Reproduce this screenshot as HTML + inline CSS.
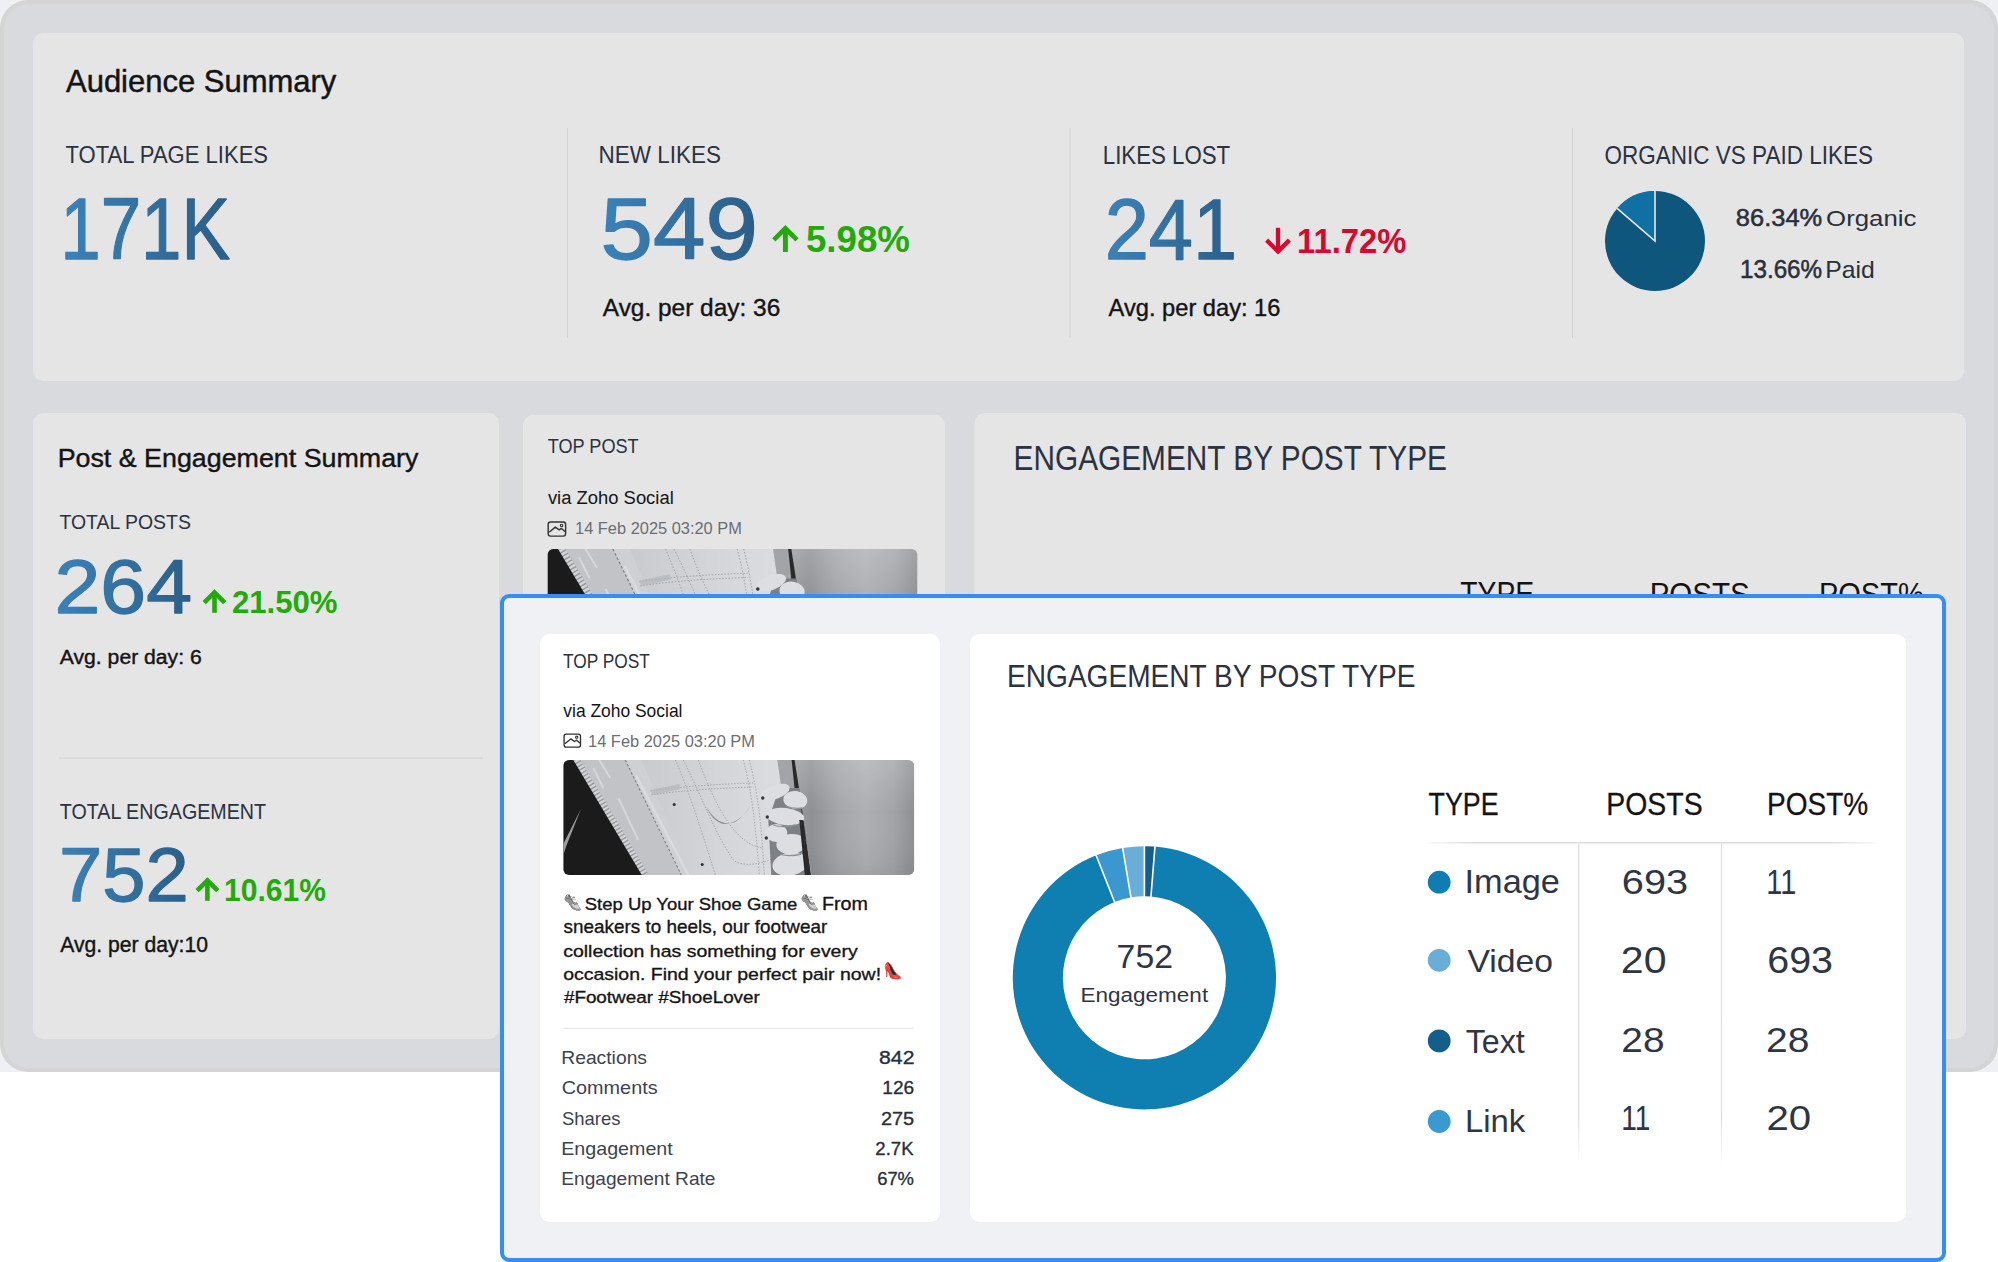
<!DOCTYPE html>
<html lang="en"><head><meta charset="utf-8"><title>Audience Summary</title>
<style>html,body{margin:0;padding:0;background:#ffffff;}body{width:1998px;height:1262px;position:relative;overflow:hidden;font-family:"Liberation Sans",Arial,sans-serif;}</style>
</head><body>
<svg width="1998" height="1262" viewBox="0 0 1998 1262" style="position:absolute;left:0;top:0" font-family="Liberation Sans, Arial, sans-serif">
<defs>
<linearGradient id="num" x1="0" y1="0" x2="1" y2="0"><stop offset="0" stop-color="#3b82b9"/><stop offset="1" stop-color="#2b5e87"/></linearGradient>
<linearGradient id="fabric" gradientUnits="userSpaceOnUse" x1="230" y1="0" x2="351" y2="0">
<stop offset="0" stop-color="#9c9da0"/><stop offset="0.15" stop-color="#8f9093"/><stop offset="0.38" stop-color="#a5a6a9"/><stop offset="0.6" stop-color="#aeafb2"/><stop offset="0.82" stop-color="#a3a4a7"/><stop offset="1" stop-color="#8e8f92"/></linearGradient>
<linearGradient id="fabricv" x1="0" y1="0" x2="0" y2="1"><stop offset="0" stop-color="#ffffff" stop-opacity="0.18"/><stop offset="0.45" stop-color="#ffffff" stop-opacity="0"/><stop offset="1" stop-color="#000000" stop-opacity="0.06"/></linearGradient>
<linearGradient id="upper" gradientUnits="userSpaceOnUse" x1="60" y1="0" x2="240" y2="0"><stop offset="0" stop-color="#c6c8cb"/><stop offset="0.35" stop-color="#cfd1d4"/><stop offset="0.7" stop-color="#d7d9dd"/><stop offset="1" stop-color="#dcdee2"/></linearGradient>
<linearGradient id="hline" x1="0" y1="0" x2="1" y2="0"><stop offset="0" stop-color="#dfe0e3" stop-opacity="0.2"/><stop offset="0.1" stop-color="#dcdde0"/><stop offset="0.9" stop-color="#dcdde0"/><stop offset="1" stop-color="#dfe0e3" stop-opacity="0.2"/></linearGradient>
<linearGradient id="vline" x1="0" y1="0" x2="0" y2="1"><stop offset="0" stop-color="#dcdde0"/><stop offset="0.85" stop-color="#dcdde0"/><stop offset="1" stop-color="#dcdde0" stop-opacity="0"/></linearGradient>
</defs>
<rect x="0" y="0" width="1998" height="1072" rx="0" fill="#eef0f4" />
<rect x="0" y="0" width="1998" height="1072" rx="28" fill="#d5d5d6" />
<rect x="4" y="4" width="1990" height="1064" rx="25" fill="#d9dadd" />
<rect x="33" y="33" width="1931" height="348" rx="10" fill="#e5e5e5" />
<rect x="567.0" y="128" width="1.0" height="210" rx="0" fill="#d3d3d5" />
<rect x="1069.5" y="128" width="1.0" height="210" rx="0" fill="#d3d3d5" />
<rect x="1572.0" y="128" width="1.0" height="210" rx="0" fill="#d3d3d5" />
<text x="66.00" y="91.50" font-size="30.76" font-weight="400" fill="#141414" textLength="270.34" lengthAdjust="spacingAndGlyphs" stroke="#141414" stroke-width="0.45" stroke-linejoin="round" >Audience Summary</text>
<text x="65.56" y="163.30" font-size="24.29" font-weight="400" fill="#2b3240" textLength="202.52" lengthAdjust="spacingAndGlyphs" >TOTAL PAGE LIKES</text>
<text x="60.19" y="258.65" font-size="86.52" font-weight="400" fill="url(#num)" textLength="169.92" lengthAdjust="spacingAndGlyphs" stroke="url(#num)" stroke-width="1.3" stroke-linejoin="round" >171K</text>
<text x="598.60" y="163.30" font-size="24.43" font-weight="400" fill="#2b3240" textLength="122.43" lengthAdjust="spacingAndGlyphs" >NEW LIKES</text>
<text x="600.58" y="258.85" font-size="86.43" font-weight="400" fill="url(#num)" textLength="157.35" lengthAdjust="spacingAndGlyphs" stroke="url(#num)" stroke-width="1.3" stroke-linejoin="round" >549</text>
<path d="M773.80 239.95 L785.40 228.35 L797.00 239.95" fill="none" stroke="#21aa0a" stroke-width="4.6" stroke-linejoin="miter" stroke-miterlimit="10"/>
<rect x="782.95" y="229.35" width="4.9" height="22.65" fill="#21aa0a"/>
<text x="805.90" y="252.30" font-size="36.14" font-weight="700" fill="#21aa0a" textLength="104.04" lengthAdjust="spacingAndGlyphs" >5.98%</text>
<text x="602.80" y="316.00" font-size="24.83" font-weight="400" fill="#141414" textLength="177.46" lengthAdjust="spacingAndGlyphs" stroke="#141414" stroke-width="0.4" stroke-linejoin="round" >Avg. per day: 36</text>
<text x="1102.82" y="163.50" font-size="25.00" font-weight="400" fill="#2b3240" textLength="127.32" lengthAdjust="spacingAndGlyphs" >LIKES LOST</text>
<text x="1104.68" y="259.35" font-size="85.86" font-weight="400" fill="url(#num)" textLength="132.52" lengthAdjust="spacingAndGlyphs" stroke="url(#num)" stroke-width="1.3" stroke-linejoin="round" >241</text>
<path d="M1266.60 240.09 L1278.00 251.49 L1289.40 240.09" fill="none" stroke="#d6082f" stroke-width="4.4" stroke-linejoin="miter" stroke-miterlimit="10"/>
<rect x="1275.85" y="227.80" width="4.3" height="22.69" fill="#d6082f"/>
<text x="1297.04" y="252.50" font-size="35.57" font-weight="700" fill="#d6082f" textLength="109.23" lengthAdjust="spacingAndGlyphs" >11.72%</text>
<text x="1108.60" y="316.00" font-size="24.00" font-weight="400" fill="#141414" textLength="171.83" lengthAdjust="spacingAndGlyphs" stroke="#141414" stroke-width="0.4" stroke-linejoin="round" >Avg. per day: 16</text>
<text x="1604.59" y="163.70" font-size="24.86" font-weight="400" fill="#2b3240" textLength="268.32" lengthAdjust="spacingAndGlyphs" >ORGANIC VS PAID LIKES</text>
<circle cx="1655" cy="241" r="50" fill="#0f567d"/>
<path d="M1655 241 L1655 191 A50 50 0 0 0 1617.15 208.33 Z" fill="#1170a3"/>
<path d="M1617.15 208.33 L1655 241 L1655 191" fill="none" stroke="#e8e8e8" stroke-width="1.6"/>
<text x="1735.85" y="226.40" font-size="23.71" font-weight="400" fill="#2a2f3a" textLength="86.35" lengthAdjust="spacingAndGlyphs" stroke="#2a2f3a" stroke-width="0.5" stroke-linejoin="round" >86.34%</text>
<text x="1826.14" y="226.40" font-size="22.90" font-weight="400" fill="#2a2f3a" textLength="90.24" lengthAdjust="spacingAndGlyphs" >Organic</text>
<text x="1739.98" y="277.80" font-size="24.86" font-weight="400" fill="#2a2f3a" textLength="82.18" lengthAdjust="spacingAndGlyphs" stroke="#2a2f3a" stroke-width="0.5" stroke-linejoin="round" >13.66%</text>
<text x="1825.32" y="277.80" font-size="24.00" font-weight="400" fill="#2a2f3a" textLength="49.53" lengthAdjust="spacingAndGlyphs" >Paid</text>
<rect x="33" y="413" width="466" height="626" rx="10" fill="#e5e5e5" />
<text x="57.65" y="466.80" font-size="26.57" font-weight="400" fill="#141414" textLength="360.78" lengthAdjust="spacingAndGlyphs" stroke="#141414" stroke-width="0.4" stroke-linejoin="round" >Post &amp; Engagement Summary</text>
<text x="59.41" y="529.00" font-size="21.14" font-weight="400" fill="#2b3240" textLength="131.48" lengthAdjust="spacingAndGlyphs" >TOTAL POSTS</text>
<text x="54.53" y="613.35" font-size="76.43" font-weight="400" fill="url(#num)" textLength="137.59" lengthAdjust="spacingAndGlyphs" stroke="url(#num)" stroke-width="1.3" stroke-linejoin="round" >264</text>
<path d="M204.20 602.68 L214.50 592.38 L224.80 602.68" fill="none" stroke="#21aa0a" stroke-width="4.5" stroke-linejoin="miter" stroke-miterlimit="10"/>
<rect x="212.20" y="593.38" width="4.6" height="19.42" fill="#21aa0a"/>
<text x="231.91" y="613.00" font-size="30.71" font-weight="700" fill="#21aa0a" textLength="105.66" lengthAdjust="spacingAndGlyphs" >21.50%</text>
<text x="59.80" y="664.30" font-size="20.41" font-weight="400" fill="#141414" textLength="141.91" lengthAdjust="spacingAndGlyphs" stroke="#141414" stroke-width="0.4" stroke-linejoin="round" >Avg. per day: 6</text>
<rect x="59" y="757.5" width="424" height="1.0" rx="0" fill="#d3d3d5" />
<text x="59.81" y="818.50" font-size="21.57" font-weight="400" fill="#2b3240" textLength="206.25" lengthAdjust="spacingAndGlyphs" >TOTAL ENGAGEMENT</text>
<text x="59.07" y="900.65" font-size="75.71" font-weight="400" fill="url(#num)" textLength="129.64" lengthAdjust="spacingAndGlyphs" stroke="url(#num)" stroke-width="1.3" stroke-linejoin="round" >752</text>
<path d="M197.10 890.68 L207.40 880.38 L217.70 890.68" fill="none" stroke="#21aa0a" stroke-width="4.5" stroke-linejoin="miter" stroke-miterlimit="10"/>
<rect x="205.10" y="881.38" width="4.6" height="19.42" fill="#21aa0a"/>
<text x="224.00" y="901.00" font-size="31.43" font-weight="700" fill="#21aa0a" textLength="101.85" lengthAdjust="spacingAndGlyphs" >10.61%</text>
<text x="60.20" y="951.90" font-size="21.66" font-weight="400" fill="#141414" textLength="147.77" lengthAdjust="spacingAndGlyphs" stroke="#141414" stroke-width="0.4" stroke-linejoin="round" >Avg. per day:10</text>
<rect x="523" y="415" width="422" height="624" rx="10" fill="#e5e5e5" />
<text x="547.64" y="453.00" font-size="21.00" font-weight="400" fill="#2b3240" textLength="91.03" lengthAdjust="spacingAndGlyphs" >TOP POST</text>
<text x="547.91" y="503.80" font-size="19.03" font-weight="400" fill="#141414" textLength="125.83" lengthAdjust="spacingAndGlyphs" >via Zoho Social</text>
<g fill="none" stroke="#333" stroke-width="1.43" stroke-linejoin="round" stroke-linecap="round"><rect x="548.20" y="522.00" width="17.40" height="14.10" rx="2.32"/><polyline points="549.72,531.76 555.32,527.11 559.22,529.86 561.44,528.48 564.61,531.23"/><circle cx="561.55" cy="525.42" r="1.21" stroke-width="1.16"/></g>
<text x="575.07" y="534.30" font-size="17.24" font-weight="400" fill="#6b6e74" textLength="166.81" lengthAdjust="spacingAndGlyphs" >14 Feb 2025 03:20 PM</text>
<g transform="translate(547.5 549) scale(1.0541310541310542)">
<clipPath id="c1"><rect x="0" y="0" width="351" height="115" rx="5.69"/></clipPath>
<g clip-path="url(#c1)">
<rect x="0" y="0" width="351" height="115" fill="url(#fabric)"/>
<rect x="0" y="0" width="351" height="115" fill="url(#fabricv)"/>
<polygon points="8,0 230,0 248,115 76,115" fill="url(#upper)"/>
<polygon points="214,0 230,0 236,30 218,28" fill="#a2a4a8"/>
<polygon points="9,0 62,0 118,115 77,115" fill="#c2c3c6"/>
<polygon points="62,0 78,0 128,115 118,115" fill="#cfd0d3"/>
<path d="M30 8 L40 28 M36 0 L47 18 M55 38 L75 80" stroke="#d6d7da" stroke-width="2" fill="none"/>
<path d="M13 0 L81.5 115" stroke="#9a9b9e" stroke-width="7" fill="none"/>
<path d="M13 0 L81.5 115" stroke="#d4d5d8" stroke-width="7" stroke-dasharray="2.2 1.5" fill="none"/>
<path d="M73 16 L125 115" stroke="#dadbde" stroke-width="2.5" fill="none"/>
<polygon points="0,0 10,0 78.5,115 0,115" fill="#1b1b1c"/>
<path d="M17.6 49 L0 84 L0 95 L3 86 Z" fill="#9c9d9f"/>
<path d="M62 0 L118 115" stroke="#7d7f83" stroke-width="1.1" stroke-dasharray="2.5 2" fill="none"/>
<g fill="none" stroke="#9a9ca1" stroke-width="0.8" stroke-dasharray="1.5 1.5"><path d="M87 31 C120 26 160 24 190 23"/><path d="M88 35 C120 30 160 28 190 27"/><path d="M112 0 C125 30 135 60 152 115"/><path d="M120 0 C140 40 150 70 170 100 C180 108 200 104 215 96"/><path d="M135 0 C150 40 170 85 200 88"/><path d="M180 0 C188 30 192 60 196 115"/><path d="M186 0 C194 30 198 60 201 115"/></g>
<path d="M87 30 L116 24 L117 29 L89 35 Z" fill="#b4b6ba" opacity="0.7"/>
<path d="M143 46 C150 60 160 66 172 62 C178 58 183 52 187 46 C181 56 172 64 160 64 C152 62 146 55 143 46 Z" fill="#8e9094"/>
<circle cx="110.9" cy="44.6" r="1.5" fill="#2b2d33"/><circle cx="138.9" cy="104.5" r="1.5" fill="#2b2d33"/>
<path d="M228.3 0 L231.3 0 L237.5 40 L247.5 115 L240.5 115 L233 45 Z" fill="#2a2a2c"/>
<path d="M216 28 L236 28 L244 115 L208 115 L205 60 Z" fill="#7d8085"/>
<g fill="#dcdee2"><ellipse cx="212" cy="32" rx="15" ry="7" transform="rotate(-20 212 32)"/><ellipse cx="232" cy="40" rx="12" ry="9" transform="rotate(8 232 40)"/><ellipse cx="222" cy="56.5" rx="19" ry="8.5" transform="rotate(6 222 56.5)"/><ellipse cx="213" cy="73" rx="11" ry="9"/><ellipse cx="228" cy="84" rx="15" ry="10" transform="rotate(-6 228 84)"/><ellipse cx="227" cy="104" rx="18" ry="11.5" transform="rotate(-10 227 104)"/></g>
<path d="M222 46 C227 48 233 49 239 48 M210 65 C216 67 224 67 232 65 M216 94 C222 96 230 96 238 94" stroke="#8d9095" stroke-width="1.3" fill="none"/>
<circle cx="199.5" cy="38" r="1.7" fill="#33363c"/><circle cx="204" cy="57" r="1.7" fill="#33363c"/><circle cx="203" cy="78" r="1.7" fill="#33363c"/>
<path d="M236 60 L239.5 60 L247.5 115 L241.5 115 Z" fill="#2a2a2c"/>
</g></g>
<rect x="974.5" y="413" width="991.5" height="626" rx="10" fill="#e5e5e5" />
<text x="1013.62" y="470.00" font-size="34.71" font-weight="400" fill="#2b3240" textLength="433.34" lengthAdjust="spacingAndGlyphs" >ENGAGEMENT BY POST TYPE</text>
<text x="1460.23" y="605.40" font-size="32.61" font-weight="400" fill="#141414" textLength="73.95" lengthAdjust="spacingAndGlyphs" >TYPE</text>
<text x="1649.64" y="605.40" font-size="32.14" font-weight="400" fill="#141414" textLength="100.08" lengthAdjust="spacingAndGlyphs" >POSTS</text>
<text x="1818.98" y="605.40" font-size="32.14" font-weight="400" fill="#141414" textLength="104.74" lengthAdjust="spacingAndGlyphs" >POST%</text>
<rect x="502" y="596" width="1442" height="664" rx="7" fill="#f0f1f5" stroke="#348ef5" stroke-width="4"/>
<rect x="540" y="634" width="400" height="588" rx="10" fill="#ffffff" />
<rect x="970" y="634" width="936" height="588" rx="10" fill="#ffffff" />
<text x="563.05" y="668.30" font-size="19.29" font-weight="400" fill="#2b3240" textLength="86.90" lengthAdjust="spacingAndGlyphs" >TOP POST</text>
<text x="563.31" y="717.00" font-size="17.52" font-weight="400" fill="#141414" textLength="119.16" lengthAdjust="spacingAndGlyphs" >via Zoho Social</text>
<g fill="none" stroke="#333" stroke-width="1.35" stroke-linejoin="round" stroke-linecap="round"><rect x="564.10" y="734.10" width="16.40" height="13.10" rx="2.20"/><polyline points="565.50,743.30 570.80,738.90 574.50,741.50 576.60,740.20 579.60,742.80"/><circle cx="576.70" cy="737.30" r="1.15" stroke-width="1.10"/></g>
<text x="588.07" y="746.60" font-size="16.41" font-weight="400" fill="#6b6e74" textLength="166.91" lengthAdjust="spacingAndGlyphs" >14 Feb 2025 03:20 PM</text>
<g transform="translate(563.3 760) scale(1.0)">
<clipPath id="c2"><rect x="0" y="0" width="351" height="115" rx="6.00"/></clipPath>
<g clip-path="url(#c2)">
<rect x="0" y="0" width="351" height="115" fill="url(#fabric)"/>
<rect x="0" y="0" width="351" height="115" fill="url(#fabricv)"/>
<polygon points="8,0 230,0 248,115 76,115" fill="url(#upper)"/>
<polygon points="214,0 230,0 236,30 218,28" fill="#a2a4a8"/>
<polygon points="9,0 62,0 118,115 77,115" fill="#c2c3c6"/>
<polygon points="62,0 78,0 128,115 118,115" fill="#cfd0d3"/>
<path d="M30 8 L40 28 M36 0 L47 18 M55 38 L75 80" stroke="#d6d7da" stroke-width="2" fill="none"/>
<path d="M13 0 L81.5 115" stroke="#9a9b9e" stroke-width="7" fill="none"/>
<path d="M13 0 L81.5 115" stroke="#d4d5d8" stroke-width="7" stroke-dasharray="2.2 1.5" fill="none"/>
<path d="M73 16 L125 115" stroke="#dadbde" stroke-width="2.5" fill="none"/>
<polygon points="0,0 10,0 78.5,115 0,115" fill="#1b1b1c"/>
<path d="M17.6 49 L0 84 L0 95 L3 86 Z" fill="#9c9d9f"/>
<path d="M62 0 L118 115" stroke="#7d7f83" stroke-width="1.1" stroke-dasharray="2.5 2" fill="none"/>
<g fill="none" stroke="#9a9ca1" stroke-width="0.8" stroke-dasharray="1.5 1.5"><path d="M87 31 C120 26 160 24 190 23"/><path d="M88 35 C120 30 160 28 190 27"/><path d="M112 0 C125 30 135 60 152 115"/><path d="M120 0 C140 40 150 70 170 100 C180 108 200 104 215 96"/><path d="M135 0 C150 40 170 85 200 88"/><path d="M180 0 C188 30 192 60 196 115"/><path d="M186 0 C194 30 198 60 201 115"/></g>
<path d="M87 30 L116 24 L117 29 L89 35 Z" fill="#b4b6ba" opacity="0.7"/>
<path d="M143 46 C150 60 160 66 172 62 C178 58 183 52 187 46 C181 56 172 64 160 64 C152 62 146 55 143 46 Z" fill="#8e9094"/>
<circle cx="110.9" cy="44.6" r="1.5" fill="#2b2d33"/><circle cx="138.9" cy="104.5" r="1.5" fill="#2b2d33"/>
<path d="M228.3 0 L231.3 0 L237.5 40 L247.5 115 L240.5 115 L233 45 Z" fill="#2a2a2c"/>
<path d="M216 28 L236 28 L244 115 L208 115 L205 60 Z" fill="#7d8085"/>
<g fill="#dcdee2"><ellipse cx="212" cy="32" rx="15" ry="7" transform="rotate(-20 212 32)"/><ellipse cx="232" cy="40" rx="12" ry="9" transform="rotate(8 232 40)"/><ellipse cx="222" cy="56.5" rx="19" ry="8.5" transform="rotate(6 222 56.5)"/><ellipse cx="213" cy="73" rx="11" ry="9"/><ellipse cx="228" cy="84" rx="15" ry="10" transform="rotate(-6 228 84)"/><ellipse cx="227" cy="104" rx="18" ry="11.5" transform="rotate(-10 227 104)"/></g>
<path d="M222 46 C227 48 233 49 239 48 M210 65 C216 67 224 67 232 65 M216 94 C222 96 230 96 238 94" stroke="#8d9095" stroke-width="1.3" fill="none"/>
<circle cx="199.5" cy="38" r="1.7" fill="#33363c"/><circle cx="204" cy="57" r="1.7" fill="#33363c"/><circle cx="203" cy="78" r="1.7" fill="#33363c"/>
<path d="M236 60 L239.5 60 L247.5 115 L241.5 115 Z" fill="#2a2a2c"/>
</g></g>
<text x="564.12" y="906.39" font-size="18.14" font-family="Noto Color Emoji, sans-serif" style="filter:grayscale(1) brightness(1.5)" transform="rotate(30 574.1 899.5)">👟</text>
<text x="584.77" y="909.90" font-size="16.97" font-weight="400" fill="#161616" textLength="212.52" lengthAdjust="spacingAndGlyphs" stroke="#161616" stroke-width="0.35" stroke-linejoin="round" >Step Up Your Shoe Game</text>
<text x="801.92" y="906.39" font-size="18.14" font-family="Noto Color Emoji, sans-serif" style="filter:grayscale(1) brightness(1.5)" transform="rotate(30 811.9 899.5)">👟</text>
<text x="821.92" y="909.90" font-size="17.83" font-weight="400" fill="#161616" textLength="46.02" lengthAdjust="spacingAndGlyphs" stroke="#161616" stroke-width="0.35" stroke-linejoin="round" >From</text>
<text x="563.43" y="933.30" font-size="18.21" font-weight="400" fill="#161616" textLength="263.90" lengthAdjust="spacingAndGlyphs" stroke="#161616" stroke-width="0.35" stroke-linejoin="round" >sneakers to heels, our footwear</text>
<text x="563.22" y="956.70" font-size="16.83" font-weight="400" fill="#161616" textLength="294.46" lengthAdjust="spacingAndGlyphs" stroke="#161616" stroke-width="0.35" stroke-linejoin="round" >collection has something for every</text>
<text x="563.22" y="979.60" font-size="17.38" font-weight="400" fill="#161616" textLength="317.86" lengthAdjust="spacingAndGlyphs" stroke="#161616" stroke-width="0.35" stroke-linejoin="round" >occasion. Find your perfect pair now!</text>
<text x="883.20" y="976.41" font-size="15.73" font-family="Noto Color Emoji, sans-serif">👠</text>
<text x="563.91" y="1003.00" font-size="17.38" font-weight="400" fill="#161616" textLength="195.89" lengthAdjust="spacingAndGlyphs" stroke="#161616" stroke-width="0.35" stroke-linejoin="round" >#Footwear #ShoeLover</text>
<rect x="563.6" y="1027.8" width="350.1" height="1.0" rx="0" fill="#e4e5e8" />
<text x="561.26" y="1063.50" font-size="17.66" font-weight="400" fill="#3d4350" textLength="85.75" lengthAdjust="spacingAndGlyphs" >Reactions</text>
<text x="879.05" y="1063.50" font-size="18.29" font-weight="400" fill="#2a2f3a" textLength="35.39" lengthAdjust="spacingAndGlyphs" stroke="#2a2f3a" stroke-width="0.35" stroke-linejoin="round" >842</text>
<text x="561.81" y="1094.10" font-size="18.57" font-weight="400" fill="#3d4350" textLength="95.78" lengthAdjust="spacingAndGlyphs" >Comments</text>
<text x="882.27" y="1094.10" font-size="18.57" font-weight="400" fill="#2a2f3a" textLength="31.86" lengthAdjust="spacingAndGlyphs" stroke="#2a2f3a" stroke-width="0.35" stroke-linejoin="round" >126</text>
<text x="561.97" y="1124.60" font-size="18.34" font-weight="400" fill="#3d4350" textLength="58.45" lengthAdjust="spacingAndGlyphs" >Shares</text>
<text x="880.90" y="1124.60" font-size="19.00" font-weight="400" fill="#2a2f3a" textLength="33.26" lengthAdjust="spacingAndGlyphs" stroke="#2a2f3a" stroke-width="0.35" stroke-linejoin="round" >275</text>
<text x="561.23" y="1154.80" font-size="17.97" font-weight="400" fill="#3d4350" textLength="111.49" lengthAdjust="spacingAndGlyphs" >Engagement</text>
<text x="875.37" y="1154.80" font-size="17.71" font-weight="400" fill="#2a2f3a" textLength="38.15" lengthAdjust="spacingAndGlyphs" stroke="#2a2f3a" stroke-width="0.35" stroke-linejoin="round" >2.7K</text>
<text x="561.27" y="1185.00" font-size="18.26" font-weight="400" fill="#3d4350" textLength="154.22" lengthAdjust="spacingAndGlyphs" >Engagement Rate</text>
<text x="877.18" y="1185.00" font-size="18.00" font-weight="400" fill="#2a2f3a" textLength="36.79" lengthAdjust="spacingAndGlyphs" stroke="#2a2f3a" stroke-width="0.35" stroke-linejoin="round" >67%</text>
<text x="1007.05" y="687.10" font-size="31.86" font-weight="400" fill="#2b3240" textLength="408.33" lengthAdjust="spacingAndGlyphs" >ENGAGEMENT BY POST TYPE</text>
<path d="M1154.95 846.62 A131.6 131.6 0 1 1 1096.17 855.36 L1114.53 901.97 A81.5 81.5 0 1 0 1150.94 896.56 Z" fill="#0f7fb2"/>
<path d="M1096.17 855.36 A131.6 131.6 0 0 1 1122.68 848.00 L1130.95 897.42 A81.5 81.5 0 0 0 1114.53 901.97 Z" fill="#3a97cf"/>
<path d="M1122.68 848.00 A131.6 131.6 0 0 1 1144.40 846.20 L1144.40 896.30 A81.5 81.5 0 0 0 1130.95 897.42 Z" fill="#6aaed8"/>
<path d="M1144.40 846.20 A131.6 131.6 0 0 1 1154.95 846.62 L1150.94 896.56 A81.5 81.5 0 0 0 1144.40 896.30 Z" fill="#135f8a"/>
<line x1="1114.90" y1="902.90" x2="1095.80" y2="854.43" stroke="#ffffff" stroke-width="1.6"/>
<line x1="1131.11" y1="898.40" x2="1122.51" y2="847.02" stroke="#ffffff" stroke-width="1.6"/>
<line x1="1144.40" y1="897.30" x2="1144.40" y2="845.20" stroke="#ffffff" stroke-width="1.6"/>
<line x1="1150.86" y1="897.56" x2="1155.03" y2="845.63" stroke="#ffffff" stroke-width="1.6"/>
<text x="1116.61" y="967.60" font-size="32.43" font-weight="400" fill="#2f3542" textLength="56.40" lengthAdjust="spacingAndGlyphs" >752</text>
<text x="1080.50" y="1001.90" font-size="20.00" font-weight="400" fill="#2f3542" textLength="127.64" lengthAdjust="spacingAndGlyphs" >Engagement</text>
<text x="1428.56" y="814.60" font-size="30.87" font-weight="400" fill="#141414" textLength="70.06" lengthAdjust="spacingAndGlyphs" stroke="#141414" stroke-width="0.3" stroke-linejoin="round" >TYPE</text>
<text x="1606.33" y="814.60" font-size="30.43" font-weight="400" fill="#141414" textLength="96.24" lengthAdjust="spacingAndGlyphs" stroke="#141414" stroke-width="0.3" stroke-linejoin="round" >POSTS</text>
<text x="1766.96" y="814.60" font-size="30.43" font-weight="400" fill="#141414" textLength="101.24" lengthAdjust="spacingAndGlyphs" stroke="#141414" stroke-width="0.3" stroke-linejoin="round" >POST%</text>
<rect x="1428" y="842" width="448" height="1.6" fill="url(#hline)"/>
<rect x="1578.2" y="844" width="1.2" height="321" fill="url(#vline)"/>
<rect x="1720.9" y="844" width="1.2" height="321" fill="url(#vline)"/>
<circle cx="1439.2" cy="882.2" r="11.4" fill="#0f7db2"/>
<circle cx="1439.2" cy="960.3" r="11.4" fill="#6aaed8"/>
<circle cx="1439.2" cy="1040.9" r="11.4" fill="#135f8a"/>
<circle cx="1439.2" cy="1121.5" r="11.4" fill="#3a99d0"/>
<text x="1464.51" y="892.60" font-size="32.75" font-weight="400" fill="#2f3643" textLength="95.41" lengthAdjust="spacingAndGlyphs" >Image</text>
<text x="1621.81" y="893.80" font-size="35.00" font-weight="400" fill="#2f3643" textLength="66.32" lengthAdjust="spacingAndGlyphs" >693</text>
<text x="1766.33" y="893.80" font-size="35.51" font-weight="400" fill="#2f3643" textLength="30.07" lengthAdjust="spacingAndGlyphs" >11</text>
<text x="1467.43" y="971.60" font-size="31.17" font-weight="400" fill="#2f3643" textLength="85.61" lengthAdjust="spacingAndGlyphs" >Video</text>
<text x="1620.85" y="973.00" font-size="36.00" font-weight="400" fill="#2f3643" textLength="45.69" lengthAdjust="spacingAndGlyphs" >20</text>
<text x="1767.23" y="973.00" font-size="36.00" font-weight="400" fill="#2f3643" textLength="65.79" lengthAdjust="spacingAndGlyphs" >693</text>
<text x="1465.76" y="1053.00" font-size="32.61" font-weight="400" fill="#2f3643" textLength="59.03" lengthAdjust="spacingAndGlyphs" >Text</text>
<text x="1621.35" y="1051.50" font-size="35.29" font-weight="400" fill="#2f3643" textLength="43.29" lengthAdjust="spacingAndGlyphs" >28</text>
<text x="1766.05" y="1051.50" font-size="35.29" font-weight="400" fill="#2f3643" textLength="43.40" lengthAdjust="spacingAndGlyphs" >28</text>
<text x="1464.97" y="1131.70" font-size="31.45" font-weight="400" fill="#2f3643" textLength="60.31" lengthAdjust="spacingAndGlyphs" >Link</text>
<text x="1621.19" y="1130.00" font-size="35.80" font-weight="400" fill="#2f3643" textLength="29.16" lengthAdjust="spacingAndGlyphs" >11</text>
<text x="1766.49" y="1130.00" font-size="35.29" font-weight="400" fill="#2f3643" textLength="44.71" lengthAdjust="spacingAndGlyphs" >20</text>
</svg>
</body></html>
